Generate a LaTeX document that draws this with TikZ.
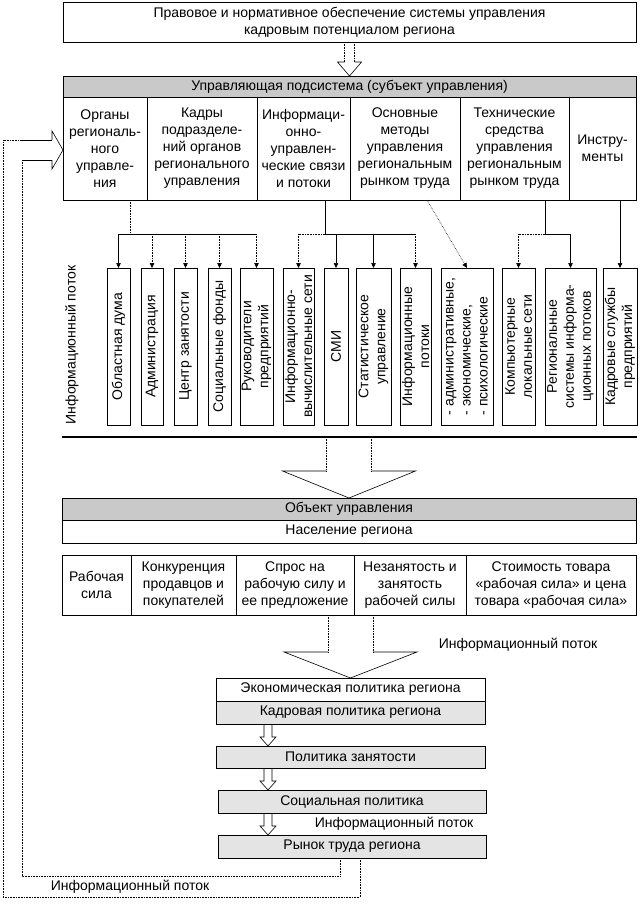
\documentclass[tikz,border=0pt]{standalone}
\usepackage{fontspec}
\setmainfont{Liberation Sans}
\usetikzlibrary{arrows.meta,calc}
\definecolor{hdgray}{gray}{0.79}
\definecolor{lgray}{gray}{0.895}
\begin{document}
\begin{tikzpicture}[x=1pt,y=-1pt,
  every node/.style={font=\fontsize{14}{17}\selectfont, inner sep=0pt, outer sep=0pt},
  cell/.style={draw, line width=0.6pt, align=center},
  vbox/.style={draw, line width=0.6pt, rotate=90, align=center, minimum width=157pt},
  ln/.style={line width=0.6pt},
  dl/.style={line width=0.6pt, densely dotted},
  tipa/.style={-{Triangle[length=5pt,width=4.5pt]}},
  lbl/.style={font=\fontsize{14}{16}\selectfont}
]
\useasboundingbox (0,0) rectangle (642,905);
\fill[white] (0,0) rectangle (642,905);

% ---------- top ----------
\node[cell, minimum width=573pt, minimum height=40pt] (top) at (349.5,22)
  {Правовое и нормативное обеспечение системы управления\\кадровым потенциалом региона};
\node[cell, fill=hdgray, minimum width=573pt, minimum height=21pt] (hdr) at (349.5,86.5)
  {Управляющая подсистема (субъект управления)};

% ---------- row of subsystems ----------
\node[cell, minimum width=84pt, minimum height=103pt] (c1) at (105,148.5)
  {Органы\\региональ-\\ного\\управле-\\ния};
\node[cell, minimum width=110pt, minimum height=103pt] (c2) at (202,148.5)
  {Кадры\\подразделе-\\ний органов\\регионального\\управления};
\node[cell, minimum width=93pt, minimum height=103pt] (c3) at (303.5,148.5)
  {Информаци-\\онно-\\управлен-\\ческие связи\\и потоки};
\node[cell, minimum width=110pt, minimum height=103pt] (c4) at (405,148.5)
  {Основные\\методы\\управления\\региональным\\рынком труда};
\node[cell, minimum width=109pt, minimum height=103pt] (c5) at (514.5,148.5)
  {Технические\\средства\\управления\\региональным\\рынком труда};
\node[cell, minimum width=67pt, minimum height=103pt] (c6) at (602.5,148.5)
  {Инстру-\\менты};

% ---------- vertical boxes ----------
\node[vbox, minimum height=23pt] (v1) at (118.5,346.5) {Областная дума};
\node[vbox, minimum height=22pt] (v2) at (152,346.5) {Администрация};
\node[vbox, minimum height=23pt] (v3) at (185.5,346.5) {Центр занятости};
\node[vbox, minimum height=23pt] (v4) at (219.5,346.5) {Социальные фонды};
\node[vbox, minimum height=33pt] (v5) at (256.5,346.5) {Руководители\\предприятий};
\node[vbox, minimum height=31pt] (v6) at (298.5,346.5) {Информационно-\\вычислительные сети};
\node[vbox, minimum height=24pt] (v7) at (336,346.5) {СМИ};
\node[vbox, minimum height=35pt] (v8) at (373.5,346.5) {Статистическое\\управление};
\node[vbox, minimum height=31pt] (v9) at (415.5,346.5) {Информационные\\потоки};
\node[vbox, minimum height=52pt, align=left] (v10) at (467,346.5) {- административные,\\- экономические,\\- психологические};
\node[vbox, minimum height=33pt] (v11) at (518.5,346.5) {Компьютерные\\локальные сети};
\node[vbox, minimum height=51pt] (v12) at (570.5,346.5) {Региональные\\системы информа-\\ционных потоков};
\node[vbox, minimum height=34pt] (v13) at (620,346.5) {Кадровые службы\\предприятий};

\node[lbl, rotate=90] (lv) at (72,345) {Информационный поток};

% ---------- connectors top row -> vertical boxes ----------
\coordinate (j1) at (130,234);
\draw[dl] (c1.south -| j1) -- (j1);
\draw[ln] (j1 -| v1.east) -- (j1 -| v5.east);
\draw[ln,tipa] (j1 -| v1.east) -- (v1.east);
\draw[dl,tipa] (j1 -| v2.east) -- (v2.east);
\draw[dl,tipa] (j1 -| v3.east) -- (v3.east);
\draw[dl,tipa] (j1 -| v4.east) -- (v4.east);
\draw[dl,tipa] (j1 -| v5.east) -- (v5.east);

\coordinate (j3) at (325,234);
\draw[ln] (c3.south -| j3) -- (j3);
\draw[dl] (j3 -| v6.east) -- (j3);
\draw[ln] (j3) -- (j3 -| v9.east);
\draw[dl,tipa] (j3 -| v6.east) -- (v6.east);
\draw[ln,tipa] (j3 -| v7.east) -- (v7.east);
\draw[ln,tipa] (j3 -| v8.east) -- (v8.east);
\draw[dl,tipa] (j3 -| v9.east) -- (v9.east);

\coordinate (j4) at (427,200);
\draw[dl,tipa] (j4) -- (v10.east);

\coordinate (j5) at (545,234);
\draw[ln] (c5.south -| j5) -- (j5);
\draw[dl] (j5 -| v11.east) -- (j5);
\draw[ln] (j5) -- (j5 -| v12.east);
\draw[dl,tipa] (j5 -| v11.east) -- (v11.east);
\draw[ln,tipa] (j5 -| v12.east) -- (v12.east);

\draw[ln,tipa] (c6.south -| v13.east) -- (v13.east);

% ---------- bold line ----------
\coordinate (bl) at (62,437);
\coordinate (br) at (637,437);
\draw[line width=2.8pt] (bl) -- (br);

% ---------- object ----------
\node[cell, fill=hdgray, minimum width=574pt, minimum height=22pt] (obj) at (349,509) {Объект управления};
\node[cell, minimum width=574pt, minimum height=23pt] (pop) at (349,531.5) {Население региона};

\node[cell, minimum width=69pt, minimum height=60pt] (r1) at (96.5,585) {Рабочая\\сила};
\node[cell, minimum width=105pt, minimum height=60pt] (r2) at (183.5,585) {Конкуренция\\продавцов и\\покупателей};
\node[cell, minimum width=118pt, minimum height=60pt] (r3) at (295,585) {Спрос на\\рабочую силу и\\ее предложение};
\node[cell, minimum width=112pt, minimum height=60pt] (r4) at (410,585) {Незанятость и\\занятость\\рабочей силы};
\node[cell, minimum width=170pt, minimum height=60pt] (r5) at (551,585) {Стоимость товара\\«рабочая сила» и цена\\товара «рабочая сила»};

% ---------- lower ----------
\node[cell, minimum width=269pt, minimum height=23pt] (e1) at (350.5,689.5) {Экономическая политика региона};
\node[cell, fill=lgray, minimum width=269pt, minimum height=23pt] (e2) at (350.5,712.5) {Кадровая политика региона};
\node[cell, fill=lgray, minimum width=269pt, minimum height=22pt] (e3) at (350.5,757) {Политика занятости};
\node[cell, fill=lgray, minimum width=268pt, minimum height=23pt] (e4) at (352,801.5) {Социальная политика};
\node[cell, fill=lgray, minimum width=268pt, minimum height=23pt] (e5) at (352,846.5) {Рынок труда региона};

\node[lbl] (l1) at (518,645) {Информационный поток};
\node[lbl] (l2) at (394,824) {Информационный поток};
\node[lbl] (l3) at (130,887) {Информационный поток};

% ---------- hollow block arrows ----------
% top -> hdr
\draw[dl] let \p1=(top.south), \p2=(hdr.north) in
  (\x1-5pt,\y1) -- (\x1-5pt,\y2+14pt) (\x1+5pt,\y1) -- (\x1+5pt,\y2+14pt);
\draw[ln] let \p1=(top.south), \p2=(hdr.north) in
  (\x1-5pt,\y2+14pt) -- (\x1-12pt,\y2+14pt) -- (\x1,\y2) -- (\x1+12pt,\y2+14pt) -- (\x1+5pt,\y2+14pt);
% bold line -> obj
\draw[dl] let \p1=(obj.north |- bl), \p2=(obj.north) in
  (\x1-22.5pt,\y1) -- (\x1-22.5pt,\y2+27pt) (\x1+22.5pt,\y1) -- (\x1+22.5pt,\y2+27pt);
\draw[ln] let \p1=(obj.north |- bl), \p2=(obj.north) in
  (\x1-22.5pt,\y2+27pt) -- (\x1-66.5pt,\y2+27pt) -- (\x1,\y2) -- (\x1+66.5pt,\y2+27pt) -- (\x1+22.5pt,\y2+27pt);
% row -> e1
\draw[dl] let \p1=(e1.north |- r3.south), \p2=(e1.north) in
  (\x1-22.5pt,\y1) -- (\x1-22.5pt,\y2+26pt) (\x1+22.5pt,\y1) -- (\x1+22.5pt,\y2+26pt);
\draw[ln] let \p1=(e1.north |- r3.south), \p2=(e1.north) in
  (\x1-22.5pt,\y2+26pt) -- (\x1-66.5pt,\y2+26pt) -- (\x1,\y2) -- (\x1+66.5pt,\y2+26pt) -- (\x1+22.5pt,\y2+26pt);
% small arrows
\coordinate (sx) at (268,0);
\foreach \a/\b in {e2/e3, e3/e4, e4/e5}{
  \draw[ln] let \p1=(sx |- \a.south), \p2=(sx |- \b.north) in
    (\x1-4pt,\y1) -- (\x1-4pt,\y2+9pt) -- (\x1-8pt,\y2+9pt) -- (\x1,\y2) -- (\x1+8pt,\y2+9pt) -- (\x1+4pt,\y2+9pt) -- (\x1+4pt,\y1);
}

% ---------- feedback loops ----------
\coordinate (o1) at (360,897);
\coordinate (o2) at (3,897);
\coordinate (o3) at (3,140);
\coordinate (i1) at (340,876);
\coordinate (i2) at (22,876);
\coordinate (i3) at (22,160);
\coordinate (ha) at (52,140);
\coordinate (hb) at (52,160);
\coordinate (htip) at (63,150);
\draw[dl] (e5.south -| o1) -- (o1) -- (o2) -- (o3) -- (o3 -| i3);
\draw[ln] (o3 -| i3) -- (ha);
\draw[dl] (e5.south -| i1) -- (i1) -- (i2) -- (i3);
\draw[ln] (i3) -- (hb);
\draw[ln] (ha) -- (52,131) -- (htip) -- (52,169) -- (hb);
\end{tikzpicture}
\end{document}
